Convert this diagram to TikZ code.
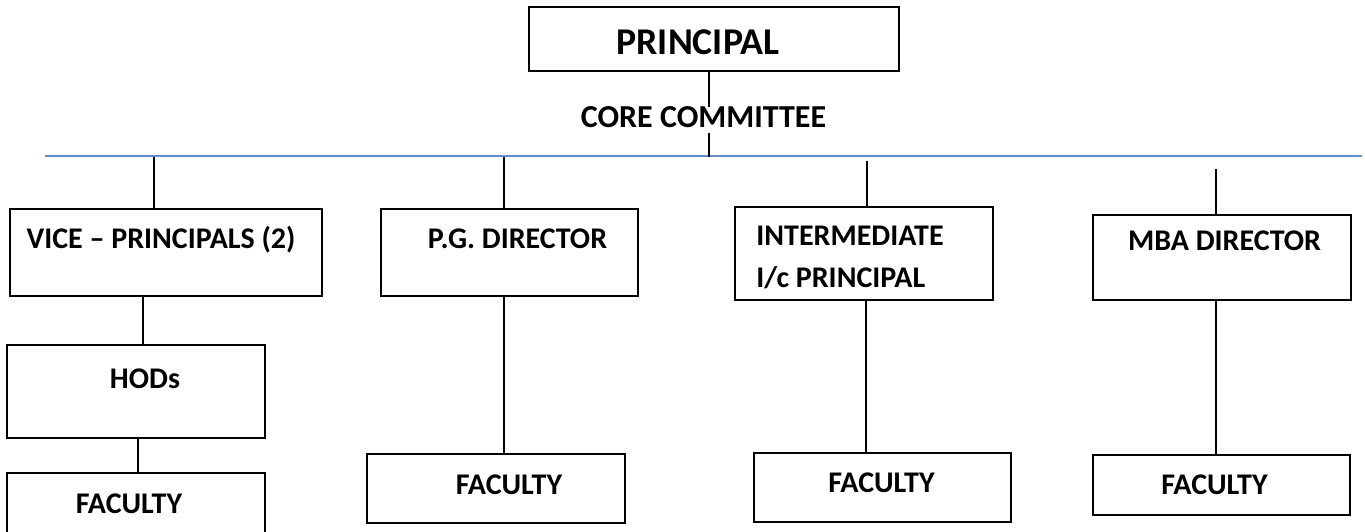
\documentclass[tikz,border=0pt]{standalone}
\usepackage{fontspec}
\setmainfont{Carlito}
\definecolor{ruleblue}{RGB}{100,138,204}
\begin{document}
\begin{tikzpicture}[x=0.5pt,y=-0.5pt,
  box/.style={draw, line width=1.2pt, inner sep=0pt, outer sep=0pt, rectangle},
  lbl/.style={anchor=base, inner sep=0pt, font=\fontsize{15}{18}\selectfont\bfseries},
  lblw/.style={lbl, anchor=base west},
  link/.style={line width=0.9pt},
  bluerule/.style={line width=0.7pt, draw=ruleblue}]
\useasboundingbox (0,0) rectangle (1365,531);
% boxes
\node[box, minimum width=185pt, minimum height=32pt] (principal) at (714,39) {};
\node[box, minimum width=156pt, minimum height=43.5pt] (vp) at (166,252.5) {};
\node[box, minimum width=128.5pt, minimum height=43.5pt] (pg) at (509.5,252.5) {};
\node[box, minimum width=129pt, minimum height=46.5pt] (inter) at (864,253.5) {};
\node[box, minimum width=129pt, minimum height=42.5pt] (mba) at (1222,257.5) {};
\node[box, minimum width=129pt, minimum height=46.5pt] (hods) at (136,391.5) {};
\node[box, minimum width=129pt, minimum height=33.5pt] (fac1) at (136,506.5) {};
\node[box, minimum width=129pt, minimum height=34.5pt] (fac2) at (496,488.5) {};
\node[box, minimum width=128.5pt, minimum height=34.5pt] (fac3) at (882.5,487.5) {};
\node[box, minimum width=128.5pt, minimum height=30pt] (fac4) at (1221.5,485) {};
% texts
\node[lbl, font=\fontsize{18.9}{22}\selectfont\bfseries] (tprincipal) at (698,54.5) {PRINCIPAL};
\node[lbl, font=\fontsize{16}{19}\selectfont\bfseries] (tcore) at (703.5,127.5) {CORE COMMITTEE};
\node[lbl] (tvp) at (161,248.5) {VICE – PRINCIPALS (2)};
\node[lbl] (tpg) at (517.5,248.5) {P.G. DIRECTOR};
\node[lblw] (tinter1) at (756,245.5) {INTERMEDIATE};
\node[lblw] (tinter2) at (756,287.5) {I/c PRINCIPAL};
\node[lbl] (tmba) at (1224.5,250.5) {MBA DIRECTOR};
\node[lbl] (thods) at (145,388.5) {HODs};
\node[lbl] (tfac1) at (129,513.5) {FACULTY};
\node[lbl] (tfac2) at (509,494.5) {FACULTY};
\node[lbl] (tfac3) at (881.5,492.5) {FACULTY};
\node[lbl] (tfac4) at (1214.5,494.5) {FACULTY};
% blue rule
\coordinate (bl) at (45,156);
\coordinate (br) at (1362,156);
\draw[bluerule] (bl) -- (br);
% principal to rule
\coordinate (p1) at (709,107);
\coordinate (p2) at (709,133);
\coordinate (p3) at (709,157);
\draw[link] (principal.south -| p1) -- (p1);
\draw[link] (p2) -- (p3);
% rule to second level
\coordinate (d1) at (154,157);
\coordinate (d2) at (504,157);
\coordinate (d3) at (867,161);
\coordinate (d4) at (1216,169);
\draw[link] (d1) -- (vp.north -| d1);
\draw[link] (d2) -- (pg.north -| d2);
\draw[link] (d3) -- (inter.north -| d3);
\draw[link] (d4) -- (mba.north -| d4);
% lower connectors
\coordinate (e1) at (143,0);
\coordinate (e2) at (138,0);
\coordinate (e3) at (504,0);
\coordinate (e4) at (866,0);
\coordinate (e5) at (1216,0);
\draw[link] (vp.south -| e1) -- (hods.north -| e1);
\draw[link] (hods.south -| e2) -- (fac1.north -| e2);
\draw[link] (pg.south -| e3) -- (fac2.north -| e3);
\draw[link] (inter.south -| e4) -- (fac3.north -| e4);
\draw[link] (mba.south -| e5) -- (fac4.north -| e5);
\end{tikzpicture}
\end{document}
